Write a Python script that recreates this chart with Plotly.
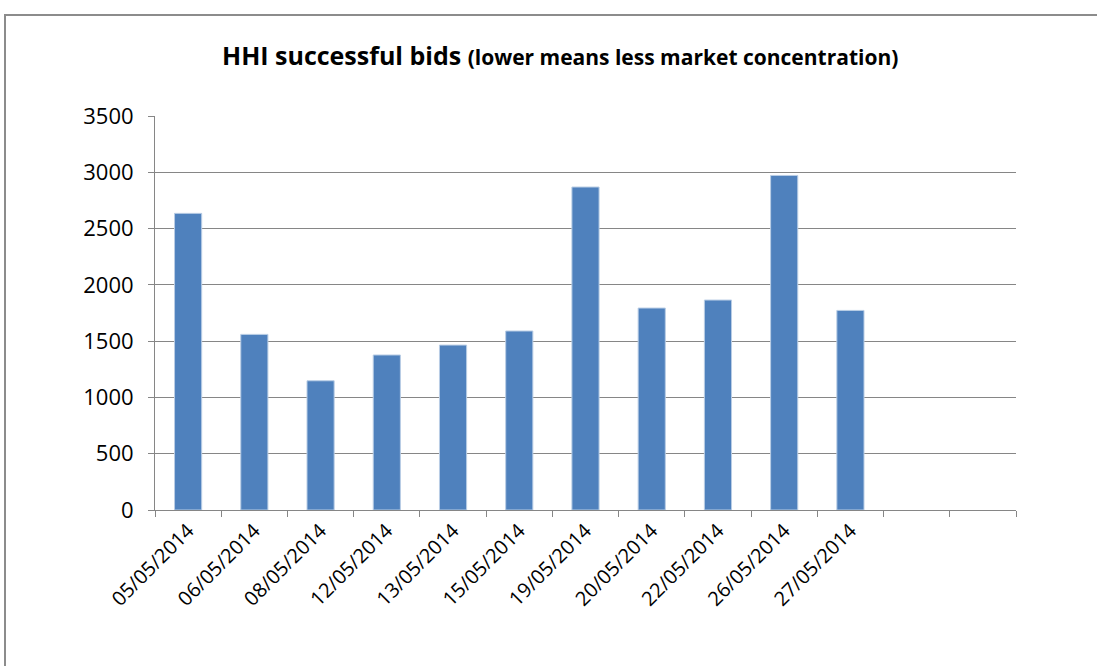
import plotly.graph_objects as go

categories = ["05/05/2014", "06/05/2014", "08/05/2014", "12/05/2014", "13/05/2014",
              "15/05/2014", "19/05/2014", "20/05/2014", "22/05/2014", "26/05/2014",
              "27/05/2014", " ", "  "]
values = [2635, 1560, 1148, 1377, 1465, 1590, 2869, 1794, 1865, 2972, 1773, None, None]
y_ticks = [0, 500, 1000, 1500, 2000, 2500, 3000, 3500]

W, H = 1097, 666
L, T = 155, 116
pw, ph = 861, 394
R = W - L - pw
B = H - T - ph

def px(x):
    return (x - L) / pw

def py(y):
    return (T + ph - y) / ph

FONT = "Open Sans"
fig = go.Figure()
fig.add_trace(go.Bar(
    x=categories, y=values,
    marker=dict(color="#4F81BD", line=dict(color="#B9CDE5", width=1)),
    width=0.41,
))

fig.update_layout(
    width=W, height=H,
    margin=dict(l=L, r=R, t=T, b=B),
    paper_bgcolor="white", plot_bgcolor="white",
    showlegend=False,
    font=dict(family=FONT, color="#000000"),
    xaxis=dict(
        type="category", categoryorder="array", categoryarray=categories,
        tickson="boundaries", ticks="outside", ticklen=6, tickcolor="#868686",
        showline=True, linecolor="#868686", linewidth=1,
        showgrid=False, tickangle=-45,
        tickfont=dict(family=FONT, size=20, color="#000"),
        range=[-0.5, 12.5],
    ),
    yaxis=dict(
        range=[0, 3500], tickvals=y_ticks, ticktext=[str(v) for v in y_ticks],
        showgrid=True, gridcolor="#868686", gridwidth=1,
        showline=True, linecolor="#868686", linewidth=1,
        ticks="outside", ticklen=6, tickcolor="#868686",
        ticklabelstandoff=10,
        tickfont=dict(family=FONT, size=22, color="#000"),
        zeroline=False,
    ),
    shapes=[dict(
        type="rect", xref="paper", yref="paper",
        x0=px(5), x1=px(1110), y0=py(690), y1=py(15),
        line=dict(color="#8C8C8C", width=2), fillcolor="rgba(0,0,0,0)", layer="below",
    )],
    annotations=[dict(
        xref="paper", yref="paper", x=px(560), y=py(55),
        xanchor="center", yanchor="middle", showarrow=False,
        text="<b>HHI successful bids</b> <b><span style='font-size:21px'>(lower means less market concentration)</span></b>",
        font=dict(family=FONT, size=25, color="#000"),
    )],
)

fig.write_html("out.html", config={"displayModeBar": False},
               post_script="document.body.style.margin='0';")
